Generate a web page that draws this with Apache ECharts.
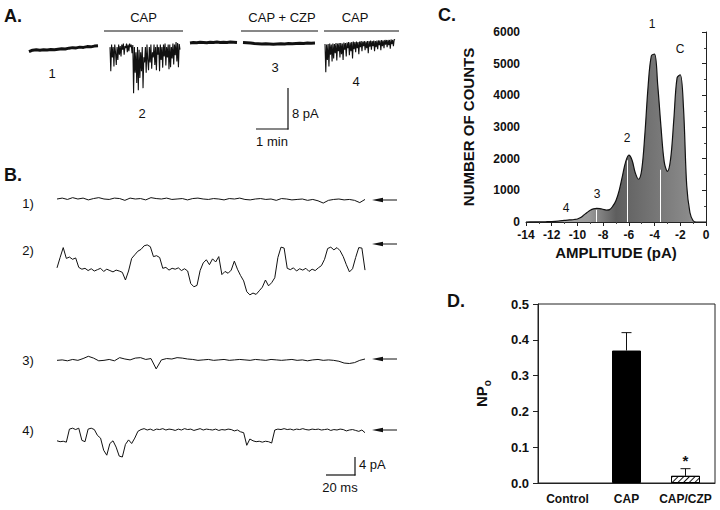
<!DOCTYPE html>
<html><head><meta charset="utf-8">
<script src="https://cdn.jsdelivr.net/npm/echarts@6/dist/echarts.min.js"></script>
<style>html,body{margin:0;padding:0;background:#fff}#c{width:720px;height:510px}</style>
</head><body><div id="c"></div>
<script>
// ---------- DATA ----------
// Panel A traces (pA, relative to closed baseline)
const traceA1 = [-1.9,-1.6,-1.5,-1.6,-1.5,-1.55,-1.45,-1.5,-1.4,-1.3,-1.35,-1.2,-1.1,-1.15,-1.0,-1.05,-0.9,-0.95,-0.8,-0.75];
const traceA2 = [-1,-5.7,-0.5,-3,-1,-4.8,-0.5,-2,
  -4.5,-1,-3.5,-0.5,-2.5,-0.8,
  -2.8,-0.5,-1.5,-0.3,-2.5,-0.8,-1.2,-0.3,-2,-0.5,-1.8,-0.3,-1,-0.5,-2.2,-0.6,
  -10,-1,-6,-2,-8,-1,
  -9.4,-1.5,-7,-2,-5.7,-1,-9,-3,-4,-1,-6,-0.5,-3.5,
  -5.5,-1,-4,-0.5,-5.2,-2,-3,-0.5,-4.5,-1,-5.5,-0.5,-2.5,-1,
  -5.7,-0.5,-3.5,-1,-5,-0.5,-2.8,-0.3,-4.6,-1,-3,-0.5,-5.3,
  -0.5,-4.9,-1,-3.2,-0.3,-4.4,-0.5,-2.6,0,-3.8,-0.2,-4.9,-0.4,-1.5];
const traceAwash = [-0.2,-0.1,-0.15,-0.05,-0.1,-0.15,-0.05,-0.1,0,-0.1,-0.05,-0.1,0,-0.05,-0.1];
const traceA3 = [-0.1,-0.15,-0.2,-0.3,-0.35,-0.4,-0.35,-0.4,-0.45,-0.4,-0.35,-0.4,-0.3,-0.35,-0.3,-0.25,-0.3,-0.2,-0.25,-0.2];
const traceA4 = [-0.4,-5.9,-0.5,-3.5,-0.4,-4.8,-0.3,-2.5,-0.5,-3.8,
  -0.3,-3.2,-0.4,-2.2,-0.2,-3.6,-0.3,-1.8,-0.2,-3.0,
  -0.2,-2.4,-0.3,-3.5,-0.1,-1.5,-0.2,-2.8,-0.1,-1.2,
  0,-2.6,-0.1,-1.8,0,-3.2,0.1,-1.4,0,-2.0,
  0.1,-1.2,0,-2.4,0.1,-1.0,0.2,-1.8,0.1,-0.8,
  0.2,-1.6,0.1,-1.2,0.2,-2.2,0.2,-0.9,0.3,-1.5,
  0.2,-0.8,0.3,-1.8,0.2,-1.0,0.3,-1.4,0.3,-0.6,
  0.3,-1.6,0.4,-0.8,0.3,-1.2,0.4,-0.5,0.4,-1.0,
  0.4,-0.6,0.4,-1.3,0.5,-0.4,0.4,-0.8,0.5,0.4];

// Panel B traces (pA, 0 = closed level marked by arrow)
const traceB1 = [0.0,0.2,-0.1,0.3,0.0,0.2,-0.2,0.1,0.3,0.0,-0.1,0.2,0.1,-0.3,0.2,0.0,0.1,-0.2,0.3,0.1,0.0,0.2,-0.1,0.0,0.1,-0.2,0.1,0.2,0.0,-0.1,0.1,0.0,-0.2,0.1,0.0,0.2,-0.1,-0.2,0.0,0.1,-0.1,0.0,-0.3,0.1,0.0,-0.2,-0.1,0.0,-0.3,-0.1,-0.4,-0.9,-0.3,-0.1,0.0,-0.2,-0.1,-0.3,-0.8,-0.1];
const traceB2 = [-5.3,-3.0,-0.8,-3.2,-2.9,-3.4,-3.1,-5.2,-5.6,-5.4,
  -5.9,-5.5,-6.0,-5.7,-5.4,-6.1,-5.6,-5.9,-6.2,-5.8,
  -6.0,-6.3,-8.0,-6.0,-3.2,-2.4,-1.6,-1.2,-0.4,-0.2,
  -0.6,-2.8,-2.6,-3.0,-5.4,-5.2,-5.8,-5.4,-5.6,-5.3,
  -5.9,-5.5,-6.0,-8.8,-9.5,-9.2,-5.9,-4.2,-3.5,-4.6,
  -3.3,-4.0,-2.8,-6.8,-6.1,-6.5,-5.8,-3.8,-5.6,-7.0,
  -8.2,-10.6,-11.3,-10.9,-11.2,-10.4,-9.6,-8.0,-9.3,-8.6,
  -7.5,-3.0,-0.7,-0.9,-5.4,-5.7,-5.3,-6.0,-5.5,-5.8,
  -5.4,-6.1,-5.6,-5.9,-5.3,-4.8,-3.4,-1.0,-0.7,-1.3,
  -0.8,-1.5,-2.8,-4.6,-6.2,-5.5,-3.0,-0.8,-0.9,-5.8];
const traceB3 = [-0.3,-0.2,-0.4,-0.1,-0.3,0.1,0.6,0.2,-0.4,-0.3,-0.1,-0.4,0.3,0.0,-0.2,0.2,0.3,-0.1,0.1,-2.2,-0.2,0.1,0.0,0.3,0.2,0.0,-0.1,-0.3,-0.2,-0.1,-0.3,-0.2,-0.1,-0.3,-0.2,-0.1,-0.2,-0.3,-0.1,-0.2,-0.3,-0.1,-0.2,-0.3,-0.2,-0.1,-0.3,-0.2,-0.4,-0.2,-0.1,-0.3,-0.2,-0.3,-0.5,-0.9,-1.0,-0.8,-0.3,0.0];
const traceB4 = [-2.4,-2.6,-2.5,-2.7,0.2,0.4,0.1,0.4,-2.3,-2.6,
  0.2,0.4,0.1,-1.2,-1.8,-4.5,-5.6,-3.0,-2.4,-3.8,
  -5.8,-6.0,-3.2,-2.2,-3.0,-1.8,-0.3,
  0.1,0.3,0.0,0.2,-0.1,0.2,0.1,0.3,0.0,0.2,0.1,-0.1,0.2,0.0,0.3,0.1,0.2,-0.1,0.1,0.3,0.0,0.2,0.1,0.0,0.2,-0.1,0.1,0.0,0.2,0.1,-0.2,0.0,-0.4,-0.6,
  -3.4,-2.0,-2.4,-2.6,-2.5,-2.7,-2.5,-2.6,-2.9,
  0.0,0.2,0.1,0.3,0.1,0.2,0.0,0.2,0.1,0.3,0.1,0.0,0.2,0.1,0.2,0.0,0.1,0.2,-0.1,0.1,0.0,0.2,0.1,-0.2,0.0,0.1,-0.1,-0.3,0.0,-0.6];

// Panel C: amplitude histogram
const ampBins = [-14,-13.5,-13,-12.5,-12,-11.5,-11,-10.75,-10.5,-10.25,-10,-9.75,-9.5,-9.25,-9,-8.75,-8.5,-8.25,-8,-7.75,-7.5,-7.25,-7,-6.75,-6.5,-6.25,-6,-5.75,-5.5,-5.25,-5,-4.75,-4.5,-4.25,-4,-3.75,-3.5,-3.25,-3,-2.75,-2.5,-2.25,-2,-1.75,-1.5,-1.25,-1,-0.75,-0.5,0];
const ampCounts = [0,2,5,8,12,25,50,62,68,78,95,140,220,300,370,415,432,425,400,375,390,500,680,1000,1450,1900,2110,1950,1550,1350,1650,2800,4300,5250,5300,4300,3000,1900,1600,2000,3250,4550,4650,3600,1150,300,40,0,0,0];
const cXTicks = {min:-14, max:0, interval:2};
const cYTicks = {min:0, max:6000, interval:1000};

// Panel D: NPo
const npoCategories = ['Control','CAP','CAP/CZP'];
const npoMeans = [0, 0.37, 0.02];
const npoErrors = [0, 0.05, 0.02];
const npoMarks = ['', '', '*'];

// ---------- CHART ----------
const FONT = "'Liberation Sans', Arial, Helvetica, sans-serif";
const chart = echarts.init(document.getElementById('c'), null, {renderer:'svg', width:720, height:510});

const grids = [], xAxes = [], yAxes = [], series = [];
function addTrace(data, left, width, zeroY, pxPerUnit, ymin, ymax, lw) {
  const gi = grids.length;
  grids.push({left: left, width: width, top: zeroY - ymax*pxPerUnit, height: (ymax-ymin)*pxPerUnit});
  xAxes.push({type:'value', gridIndex: gi, show:false, min:0, max:data.length-1});
  yAxes.push({type:'value', gridIndex: gi, show:false, min:ymin, max:ymax});
  series.push({type:'line', xAxisIndex: gi, yAxisIndex: gi, data: data.map((v,i)=>[i,v]),
    showSymbol:false, symbol:'none', lineStyle:{color:'#111', width: lw}, silent:true, animation:false});
}
// Panel A: 8 pA = 41 px
const aScale = 41/8;
addTrace(traceA1, 29, 69, 42, aScale, -12, 2, 3);
addTrace(traceA2, 110, 70, 42, aScale, -12, 2, 1.1);
addTrace(traceAwash, 190, 47, 42, aScale, -12, 2, 3);
addTrace(traceA3, 243, 72, 42, aScale, -12, 2, 3);
addTrace(traceA4, 325, 70, 42, aScale, -12, 2, 1.1);
// Panel B: 4 pA = 18 px
const bScale = 18/4;
addTrace(traceB1, 57, 308, 199, bScale, -14, 2, 1);
addTrace(traceB2, 57, 308, 244, bScale, -14, 2, 1);
addTrace(traceB3, 57, 308, 359, bScale, -14, 2, 1);
addTrace(traceB4, 57, 308, 430, bScale, -14, 2, 1);

// Panel C
const gC = grids.length;
grids.push({left:526, top:32, width:180, height:190});
xAxes.push({type:'value', gridIndex:gC, min:cXTicks.min, max:cXTicks.max, interval:cXTicks.interval,
  name:'AMPLITUDE (pA)', nameLocation:'middle', nameGap:23,
  nameTextStyle:{fontFamily:FONT, fontSize:15, fontWeight:'bold', color:'#111'},
  axisLine:{lineStyle:{color:'#222', width:1}}, axisTick:{length:4, lineStyle:{color:'#222'}},
  minorTick:{show:true, splitNumber:2, length:2, lineStyle:{color:'#444'}},
  axisLabel:{fontFamily:FONT, fontSize:12, fontWeight:'bold', color:'#111', margin:7},
  splitLine:{show:false}});
yAxes.push({type:'value', gridIndex:gC, min:cYTicks.min, max:cYTicks.max, interval:cYTicks.interval,
  name:'NUMBER OF COUNTS', nameLocation:'middle', nameGap:50, nameRotate:90,
  nameTextStyle:{fontFamily:FONT, fontSize:15, fontWeight:'bold', color:'#111'},
  axisLine:{show:true, lineStyle:{color:'#222', width:1}}, axisTick:{show:true, length:4, lineStyle:{color:'#222'}},
  minorTick:{show:true, splitNumber:2, length:2, lineStyle:{color:'#444'}},
  axisLabel:{fontFamily:FONT, fontSize:12, fontWeight:'bold', color:'#111', margin:6, formatter:v=>String(v)},
  splitLine:{show:false}});
series.push({type:'line', xAxisIndex:gC, yAxisIndex:gC, data: ampBins.map((a,i)=>[a, ampCounts[i]]),
  smooth:0.35, showSymbol:false, symbol:'none', animation:false,
  lineStyle:{color:'#111', width:1.2},
  areaStyle:{opacity:1, color:{type:'linear', x:0, y:0, x2:1, y2:0, colorStops:[
    {offset:0, color:'#b8b8b8'},{offset:0.35, color:'#9a9a9a'},{offset:0.5, color:'#5e5e5e'},
    {offset:0.72, color:'#767676'},{offset:0.9, color:'#8a8a8a'},{offset:1, color:'#aaaaaa'}]}},
  markLine:{silent:true, symbol:'none', animation:false, label:{show:false},
    lineStyle:{color:'#fff', width:1, type:'solid'},
    data:[[{coord:[-8.5,0]},{coord:[-8.5,380]}],[{coord:[-6.09,0]},{coord:[-6.09,1950]}],[{coord:[-3.55,0]},{coord:[-3.55,1650]}]]}
});

// Panel D
const gD = grids.length;
grids.push({left:538, top:304, width:177, height:179, show:true, borderColor:'#222', borderWidth:1, backgroundColor:'transparent'});
xAxes.push({type:'category', gridIndex:gD, data:npoCategories,
  axisLine:{lineStyle:{color:'#222'}}, axisTick:{alignWithLabel:true, inside:true, length:4, lineStyle:{color:'#444'}},
  axisLabel:{fontFamily:FONT, fontSize:12, fontWeight:'bold', color:'#111', margin:10, interval:0}});
yAxes.push({type:'value', gridIndex:gD, min:0, max:0.5, interval:0.1,
  name:'{a|NP}{b|o}', nameLocation:'middle', nameGap:46, nameRotate:90,
  nameTextStyle:{rich:{a:{fontFamily:FONT, fontSize:15, fontWeight:'bold', color:'#111', lineHeight:22, verticalAlign:'middle'},
                      b:{fontFamily:FONT, fontSize:10, fontWeight:'bold', color:'#111', lineHeight:10, verticalAlign:'bottom'}}},
  axisLine:{show:true, lineStyle:{color:'#222'}}, axisTick:{show:true, length:5, lineStyle:{color:'#222'}},
  axisLabel:{fontFamily:FONT, fontSize:13, fontWeight:'bold', color:'#111', margin:9, formatter:v=>v.toFixed(1)},
  splitLine:{show:false}});
series.push({type:'bar', xAxisIndex:gD, yAxisIndex:gD, barWidth:29, animation:false,
  data: npoMeans.map((v,i)=>{
    if (i===0) return {value:v, itemStyle:{color:'transparent', borderWidth:0}};
    if (i===1) return {value:v, itemStyle:{color:'#000', borderColor:'#000', borderWidth:1}};
    return {value:v, itemStyle:{color:'#fff', borderColor:'#000', borderWidth:1,
      decal:{symbol:'rect', symbolSize:1, color:'#111', backgroundColor:'#fff', dashArrayX:[1,0], dashArrayY:[1,3], rotation:-Math.PI/4}}};
  })});
series.push({type:'custom', xAxisIndex:gD, yAxisIndex:gD, animation:false, silent:true,
  data: npoMeans.map((v,i)=>[i, v, npoErrors[i]]),
  renderItem:(params, api)=>{
    const i = api.value(0), m = api.value(1), e = api.value(2);
    const base = api.coord([i, m]);
    const top = api.coord([i, m+e]);
    const children = [];
    if (e > 0) {
      children.push({type:'line', shape:{x1:base[0], y1:base[1], x2:top[0], y2:top[1]}, style:{stroke:'#111', lineWidth:1}});
      children.push({type:'line', shape:{x1:top[0]-5, y1:top[1], x2:top[0]+5, y2:top[1]}, style:{stroke:'#111', lineWidth:1}});
    }
    const mk = npoMarks[params.dataIndex];
    if (mk) children.push({type:'text', style:{text:mk, x:top[0], y:top[1]-1, fill:'#111', fontSize:15, fontWeight:'bold', fontFamily:FONT, align:'center', verticalAlign:'bottom'}});
    return {type:'group', children};
  }});

// ---------- Annotations ----------
function txt(t, x, y, size, weight, align) {
  return {type:'text', silent:true, style:{text:t, x:x, y:y, fill:'#111', fontSize:size, fontWeight:weight||'normal', fontFamily:FONT,
    align: align||'center', verticalAlign:'middle', textAlign: align||'center', textVerticalAlign:'middle'}};
}
function ln(x1,y1,x2,y2,w) { return {type:'line', silent:true, shape:{x1,y1,x2,y2}, style:{stroke:'#111', lineWidth:w||1}}; }
function arrow(y) {
  return {type:'group', silent:true, children:[ln(379,y,397,y,1),
    {type:'polygon', shape:{points:[[372,y],[383,y-2.2],[383,y+2.2]]}, style:{fill:'#111'}}]};
}
const graphic = [
  txt('A.', 4, 16, 18, 'bold', 'left'),
  txt('B.', 4, 175, 18, 'bold', 'left'),
  txt('C.', 438, 15, 18, 'bold', 'left'),
  txt('D.', 447, 301, 18, 'bold', 'left'),
  // Panel A drug bars
  ln(104,31,183,31,1), ln(241,31,318,31,1), ln(324,31,399,31,1),
  txt('CAP', 143.5, 17, 13), txt('CAP + CZP', 282, 17, 13), txt('CAP', 355, 17, 13),
  txt('1', 52, 73, 13), txt('2', 142, 113, 13), txt('3', 275, 67, 13), txt('4', 356, 81, 13),
  ln(288,88,288,129.5,1.2), ln(256,129,288.5,129,1.2),
  txt('8 pA', 292, 113, 13, 'normal', 'left'), txt('1 min', 272, 141, 13),
  // Panel B
  txt('1)', 28, 203, 13), txt('2)', 28, 250, 13), txt('3)', 28, 360, 13), txt('4)', 28, 430, 13),
  arrow(200), arrow(244), arrow(359), arrow(430),
  ln(355,457,355,475.5,1.2), ln(326,475,355.5,475,1.2),
  txt('4 pA', 359, 464, 13, 'normal', 'left'), txt('20 ms', 340, 487, 13),
  // Panel C peak labels
  txt('1', 652, 24, 12), txt('C', 680, 49, 12), txt('2', 627, 138, 12), txt('3', 597, 194, 12), txt('4', 566, 208, 12)
];

chart.setOption({animation:false, backgroundColor:'#fff', grid:grids, xAxis:xAxes, yAxis:yAxes, series:series, graphic:graphic});
</script></body></html>
